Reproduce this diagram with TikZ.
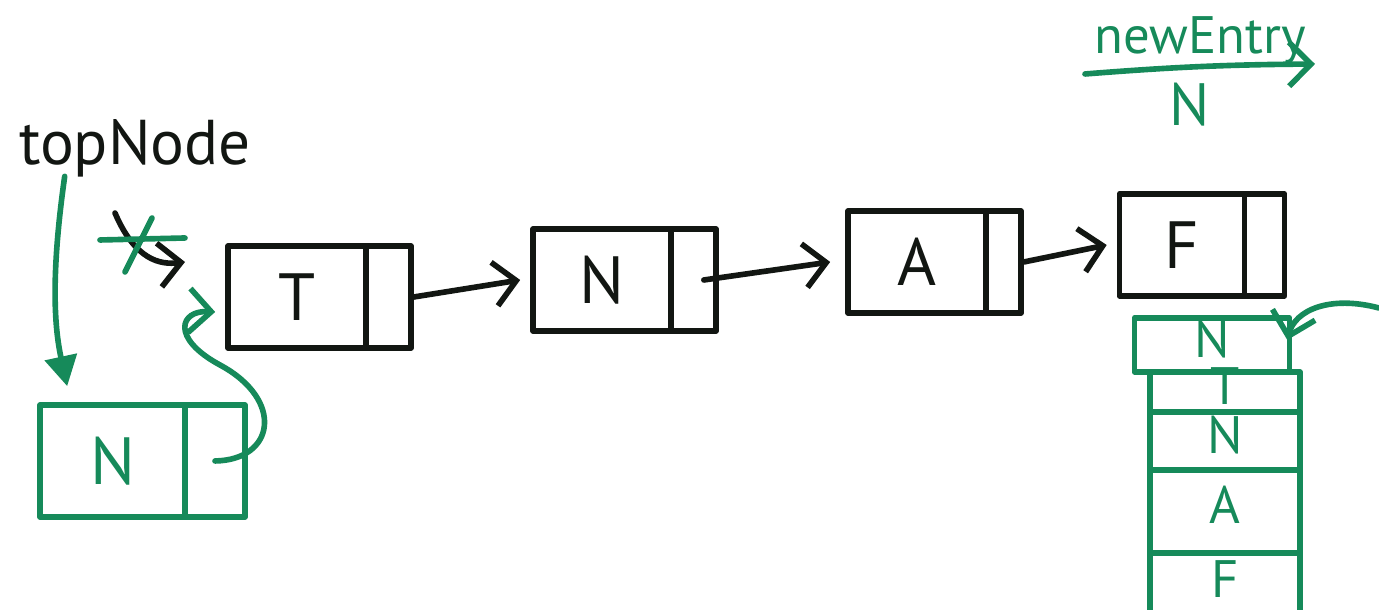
\documentclass[tikz,border=0pt]{standalone}
\usepackage{fontspec}
\setmainfont{PT Sans}
\usetikzlibrary{positioning,arrows.meta}
\definecolor{ink}{RGB}{18,22,18}
\definecolor{pen}{RGB}{22,138,90}

\begin{document}
\begin{tikzpicture}[
		line width=1.6pt, line cap=round, line join=round,
		>={Straight Barb[length=2.2mm,width=4.4mm]},
		box/.style  = {rectangle, draw=ink, text=ink, minimum height=1.02cm, inner sep=0pt, font=\fontsize{19}{22}\selectfont},
		data/.style = {box, minimum width=1.38cm},
		ptr/.style  = {box, minimum width=0.45cm},
		gbox/.style = {box, draw=pen, text=pen, minimum height=1.12cm},
		cell/.style = {rectangle, draw=pen, text=pen, minimum width=1.5cm, inner sep=0pt, text height=1.4ex, text depth=0pt, font=\fontsize{15}{17}\selectfont},
		ln/.style   = {->, draw=ink},
		gl/.style   = {->, draw=pen}
		]
	\useasboundingbox (0,0) rectangle (13.79,6.10);

	%List nodes
	\node[data] (T)  at (2.97, 3.13)  {T};
	\node[ptr]  (Tp) [right=-1.6pt of T]  {};
	\node[data] (N)  at (6.02, 3.30)  {N};
	\node[ptr]  (Np) [right=-1.6pt of N]  {};
	\node[data] (A)  at (9.17, 3.48)  {A};
	\node[ptr, minimum width=0.35cm] (Ap) [right=-1.6pt of A] {};
	\node[data, minimum width=1.25cm] (F)  at (11.82, 3.65) {F};
	\node[ptr, minimum width=0.4cm]   (Fp) [right=-1.6pt of F] {};

	%Labels
	\node[text=ink, font=\fontsize{18}{20}\selectfont] (top) at (1.35, 4.62) {topNode};
	\node[text=pen, font=\fontsize{15}{17}\selectfont] (ne)  at (12.0, 5.70) {newEntry};
	\node[text=pen, font=\fontsize{17}{19}\selectfont] (nN)  at (11.9, 5.05) {N};

	%New node
	\node[gbox, minimum width=1.45cm] (gN)  at (1.125, 1.49) {N};
	\node[gbox, minimum width=0.6cm]  (gNp) [right=-1.6pt of gN] {};

	%Stack
	\node[cell, minimum width=1.55cm, minimum height=0.54cm] (sN) at (12.12, 2.65) {N};
	\node[cell, minimum height=0.40cm] (sT) [below=-1.6pt of sN, xshift=1.3mm] {T};
	\node[cell, minimum height=0.58cm] (sN2) [below=-1.6pt of sT] {N};
	\node[cell, minimum height=0.83cm] (sA)  [below=-1.6pt of sN2] {A};
	\node[cell, minimum height=0.64cm] (sF)  [below=-1.6pt of sA] {F};

	%Free ends
	\coordinate (old1) at (1.15, 3.97);
	\coordinate (old2) at (1.85, 3.48);
	\coordinate (ue1)  at (10.85, 5.36);
	\coordinate (ue2)  at (13.15, 5.46);
	\coordinate (ext)  at (13.79, 3.02);

	%Lines
	\draw[ln] (Tp.east) -- ([xshift=-1mm]N.west);
	\draw[ln] ([xshift=-1.5mm]Np.east) -- ([xshift=-1.5mm]A.west);
	\draw[ln] (Ap.east) -- ([xshift=-1mm]F.west);

	\draw[ln] (old1) .. controls (1.35, 3.5) and (1.6, 3.45) .. (old2);
	\draw[pen] (1.0, 3.70) -- (1.85, 3.72);
	\draw[pen] (1.25, 3.38) -- (1.52, 3.92);

	\draw[pen, -{Triangle[length=3mm,width=3.2mm]}] ([xshift=6mm,yshift=1.5mm]top.south west)
		.. controls (0.5, 3.3) and (0.55, 2.8) .. ([xshift=3mm,yshift=1.6mm]gN.north west);
	\draw[gl] (gNp.center) .. controls (2.75, 1.5) and (2.85, 2.1) .. (2.2, 2.45)
		.. controls (1.7, 2.72) and (1.8, 3.0) .. ([xshift=-1mm,yshift=-1.5mm]T.west);

	\draw[gl] (ue1) to[bend left=2] (ue2);
	\draw[gl] (ext) .. controls (13.3, 3.15) and (12.95, 3.0) .. ([xshift=-0.5mm,yshift=0.5mm]sN.east);

\end{tikzpicture}
\end{document}
